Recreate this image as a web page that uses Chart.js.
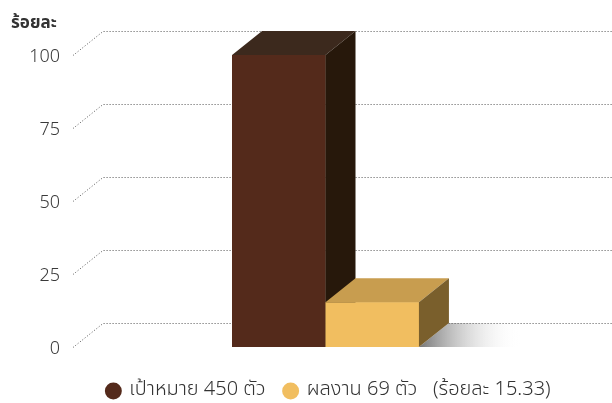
<!DOCTYPE html>
<html><head><meta charset="utf-8">
<script src="https://cdn.jsdelivr.net/npm/chart.js@4/dist/chart.umd.min.js"></script>
<style>html,body{margin:0;padding:0;background:#fff;}#wrap{width:612px;height:403px;position:relative;}</style>
</head><body><div id="wrap"><canvas id="c"></canvas></div>
<script>
const categories = ['ผลการดำเนินงาน'];
const seriesNames = ['เป้าหมาย 450 ตัว', 'ผลงาน 69 ตัว   (ร้อยละ 15.33)'];
const targetValues = [100];
const resultValues = [15.33];
const yTicks = [0, 25, 50, 75, 100];
const yTitle = 'ร้อยละ';

const FONT = "'Noto Sans Thai', 'Noto Sans', 'DejaVu Sans', sans-serif";
const faces = [
  {front: '#542a1b', top: '#3c291d', side: '#27180b'},
  {front: '#f1be60', top: '#c89d4f', side: '#7a5f2c'}
];
const DX = 30, DY = -24;
const LEGEND_SHIFT = 30;

const depthPlugin = {
  id: 'depth',
  afterLayout(chart) {
    const lg = chart.legend;
    if (lg) { lg.left += LEGEND_SHIFT; lg.right += LEGEND_SHIFT; }
  },
  beforeDatasetsDraw(chart) {
    const {ctx, chartArea: a, scales: {y}} = chart;
    // floor shadows
    chart.getSortedVisibleDatasetMetas().forEach(meta => {
      meta.data.forEach(bar => {
        const p = bar.getProps(['x', 'base', 'width'], true);
        const r = p.x + p.width / 2;
        const end = r + p.width * 1.08;
        const g = ctx.createLinearGradient(r, 0, end, 0);
        g.addColorStop(0, 'rgba(110,110,110,0.95)');
        g.addColorStop(1, 'rgba(255,255,255,0)');
        ctx.save();
        ctx.fillStyle = g;
        ctx.beginPath();
        ctx.moveTo(r, p.base);
        ctx.lineTo(r + DX, p.base + DY);
        ctx.lineTo(end, p.base + DY);
        ctx.lineTo(end, p.base);
        ctx.closePath();
        ctx.fill();
        ctx.restore();
      });
    });
    // dotted grid (back wall + floor edge)
    ctx.save();
    ctx.strokeStyle = '#555';
    ctx.lineWidth = 1;
    ctx.setLineDash([1, 2]);
    yTicks.forEach(v => {
      const py = Math.round(y.getPixelForValue(v)) + 0.5;
      ctx.beginPath();
      ctx.moveTo(a.left, py);
      ctx.lineTo(a.left + DX, py + DY);
      ctx.lineTo(chart.width, py + DY);
      ctx.stroke();
    });
    ctx.restore();
  },
  afterDatasetsDraw(chart) {
    const {ctx} = chart;
    // redraw bars left-to-right so each box's depth faces overlap correctly
    chart.data.datasets.forEach((ds, i) => {
      const meta = chart.getDatasetMeta(i);
      const f = faces[i];
      meta.data.forEach(bar => {
        bar.draw(ctx);
        const {x, y, base, width} = bar.getProps(['x', 'y', 'base', 'width'], true);
        const l = x - width / 2, r = x + width / 2;
        ctx.save();
        ctx.fillStyle = f.top;
        ctx.beginPath();
        ctx.moveTo(l, y); ctx.lineTo(l + DX, y + DY); ctx.lineTo(r + DX, y + DY); ctx.lineTo(r, y);
        ctx.closePath(); ctx.fill();
        ctx.fillStyle = f.side;
        ctx.beginPath();
        ctx.moveTo(r, y); ctx.lineTo(r + DX, y + DY); ctx.lineTo(r + DX, base + DY); ctx.lineTo(r, base);
        ctx.closePath(); ctx.fill();
        ctx.restore();
      });
    });
  },
  afterDraw(chart) {
    const {ctx} = chart;
    ctx.save();
    ctx.fillStyle = '#333';
    ctx.font = "bold 17px " + FONT;
    ctx.textBaseline = 'middle';
    ctx.textAlign = 'left';
    ctx.fillText(yTitle, 11, 25);
    ctx.restore();
  }
};

new Chart(document.getElementById('c'), {
  type: 'bar',
  data: {
    labels: categories,
    datasets: [
      {label: seriesNames[0], data: targetValues, backgroundColor: faces[0].front},
      {label: seriesNames[1], data: resultValues, backgroundColor: faces[1].front}
    ]
  },
  options: {
    responsive: true,
    maintainAspectRatio: false,
    animation: false,
    layout: {padding: {left: 20, right: 34, top: 55, bottom: 0}},
    datasets: {bar: {categoryPercentage: 0.37, barPercentage: 1, borderWidth: 0}},
    scales: {
      x: {
        display: true,
        grid: {display: false, drawTicks: false},
        border: {display: false},
        ticks: {display: false},
        afterFit: s => { s.height = 15; }
      },
      y: {
        min: 0, max: 100,
        grid: {display: false, drawTicks: false},
        border: {display: false},
        ticks: {stepSize: 25, padding: 13, labelOffset: 3, color: '#3a3a3a', font: {family: FONT, size: 18, weight: '300'}},
        afterFit: s => { s.width = 53; }
      }
    },
    plugins: {
      legend: {
        position: 'bottom',
        maxHeight: 41,
        labels: {
          usePointStyle: true,
          pointStyle: 'circle',
          boxWidth: 12,
          boxHeight: 12,
          padding: 19,
          color: '#333',
          font: {family: FONT, size: 20, weight: '300'}
        }
      },
      tooltip: {enabled: false}
    }
  },
  plugins: [depthPlugin]
});
</script></body></html>
